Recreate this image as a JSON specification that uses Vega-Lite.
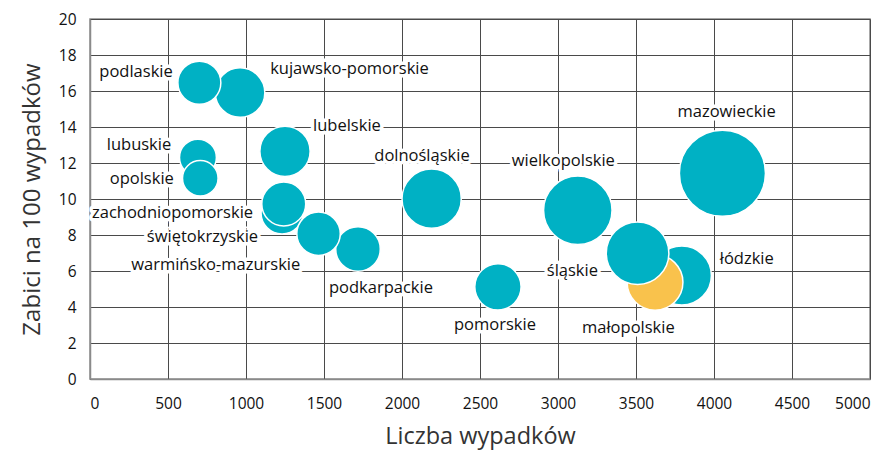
{
  "$schema": "https://vega.github.io/schema/vega-lite/v6.json",
  "width": 780,
  "height": 360,
  "autosize": {"type": "none"},
  "padding": {"left": 90, "top": 19, "right": 19, "bottom": 71},
  "background": "white",
  "config": {
    "view": {"stroke": "#8a8a8a", "strokeWidth": 1.5},
    "axis": {
      "grid": true,
      "gridColor": "#4a4a4a",
      "gridWidth": 1,
      "gridOpacity": 1,
      "ticks": false,
      "tickSize": 0,
      "domainColor": "#8a8a8a",
      "domainWidth": 1.5,
      "labelFont": "Open Sans",
      "labelFontSize": 15.5,
      "labelColor": "#111111",
      "labelOverlap": false,
      "labelPadding": 14,
      "titleFont": "Open Sans",
      "titleFontSize": 23.5,
      "titleFontWeight": "normal",
      "titleColor": "#333333"
    }
  },
  "datasets": {
    "bubbles": [
      {"name": "łódzkie", "wypadki": 3794, "zabici100": 5.75, "zabici": 218},
      {"name": "małopolskie", "wypadki": 3622, "zabici100": 5.37, "zabici": 194.5},
      {"name": "śląskie", "wypadki": 3510, "zabici100": 6.99, "zabici": 245},
      {"name": "kujawsko-pomorskie", "wypadki": 962, "zabici100": 15.91, "zabici": 153},
      {"name": "podlaskie", "wypadki": 701, "zabici100": 16.46, "zabici": 115.4},
      {"name": "lubuskie", "wypadki": 692, "zabici100": 12.3, "zabici": 85},
      {"name": "opolskie", "wypadki": 707, "zabici100": 11.15, "zabici": 79},
      {"name": "podkarpackie", "wypadki": 1718, "zabici100": 7.22, "zabici": 124},
      {"name": "świętokrzyskie", "wypadki": 1231, "zabici100": 9.22, "zabici": 110},
      {"name": "warmińsko-mazurskie", "wypadki": 1465, "zabici100": 8.07, "zabici": 118},
      {"name": "lubelskie", "wypadki": 1250, "zabici100": 12.65, "zabici": 158},
      {"name": "zachodniopomorskie", "wypadki": 1242, "zabici100": 9.72, "zabici": 120.7},
      {"name": "dolnośląskie", "wypadki": 2190, "zabici100": 10.02, "zabici": 219.4},
      {"name": "wielkopolskie", "wypadki": 3127, "zabici100": 9.37, "zabici": 293},
      {"name": "mazowieckie", "wypadki": 4054, "zabici100": 11.43, "zabici": 463},
      {"name": "pomorskie", "wypadki": 2615, "zabici100": 5.12, "zabici": 134}
    ],
    "labels": [
      {"name": "podlaskie", "lx": 295, "ly": 17.07},
      {"name": "kujawsko-pomorskie", "lx": 1663, "ly": 17.22},
      {"name": "lubelskie", "lx": 1647, "ly": 14.06},
      {"name": "lubuskie", "lx": 314, "ly": 12.98},
      {"name": "opolskie", "lx": 332, "ly": 11.09},
      {"name": "dolnośląskie", "lx": 2128, "ly": 12.41},
      {"name": "zachodniopomorskie", "lx": 529, "ly": 9.21},
      {"name": "świętokrzyskie", "lx": 721, "ly": 7.91},
      {"name": "warmińsko-mazurskie", "lx": 806, "ly": 6.32},
      {"name": "podkarpackie", "lx": 1865, "ly": 5.04},
      {"name": "mazowieckie", "lx": 4081, "ly": 14.82},
      {"name": "wielkopolskie", "lx": 3034, "ly": 12.11},
      {"name": "śląskie", "lx": 3092, "ly": 6.0},
      {"name": "łódzkie", "lx": 4210, "ly": 6.65},
      {"name": "pomorskie", "lx": 2596, "ly": 3.0},
      {"name": "małopolskie", "lx": 3451, "ly": 2.82}
    ]
  },
  "layer": [
    {
      "data": {"name": "labels"},
      "mark": {"type": "text", "font": "Open Sans", "fontSize": 16.5, "baseline": "middle", "align": "center", "stroke": "white", "strokeWidth": 7, "strokeJoin": "round", "fill": "white"},
      "encoding": {
        "x": {"field": "lx", "type": "quantitative", "scale": {"domain": [0, 5000], "nice": false}, "axis": {"values": [0, 500, 1000, 1500, 2000, 2500, 3000, 3500, 4000, 4500, 5000], "format": "d", "title": "Liczba wypadków", "labelPadding": 17, "titlePadding": 13}},
        "y": {"field": "ly", "type": "quantitative", "scale": {"domain": [0, 20], "nice": false}, "axis": {"values": [0, 2, 4, 6, 8, 10, 12, 14, 16, 18, 20], "format": "d", "title": "Zabici na 100 wypadków", "titleFontSize": 24, "titlePadding": 14}},
        "text": {"field": "name"}
      }
    },
    {
      "data": {"name": "bubbles"},
      "mark": {"type": "point", "shape": "circle", "filled": true, "opacity": 1, "stroke": "white", "strokeWidth": 1.5},
      "encoding": {
        "x": {"field": "wypadki", "type": "quantitative", "scale": {"domain": [0, 5000], "nice": false}, "axis": {"values": [0, 500, 1000, 1500, 2000, 2500, 3000, 3500, 4000, 4500, 5000], "format": "d", "title": "Liczba wypadków", "labelPadding": 17, "titlePadding": 13}},
        "y": {"field": "zabici100", "type": "quantitative", "scale": {"domain": [0, 20], "nice": false}, "axis": {"values": [0, 2, 4, 6, 8, 10, 12, 14, 16, 18, 20], "format": "d", "title": "Zabici na 100 wypadków", "titleFontSize": 24, "titlePadding": 14}},
        "size": {"field": "zabici", "type": "quantitative", "scale": {"type": "linear", "domain": [0, 500], "range": [0, 8000], "zero": true}, "legend": null},
        "fill": {"condition": {"test": "datum.name === 'małopolskie'", "value": "#F9C24C"}, "value": "#00B1C4"}
      }
    },
    {
      "data": {"name": "labels"},
      "mark": {"type": "text", "font": "Open Sans", "fontSize": 16.5, "baseline": "middle", "align": "center", "fill": "#111111"},
      "encoding": {
        "x": {"field": "lx", "type": "quantitative", "scale": {"domain": [0, 5000], "nice": false}, "axis": {"values": [0, 500, 1000, 1500, 2000, 2500, 3000, 3500, 4000, 4500, 5000], "format": "d", "title": "Liczba wypadków", "labelPadding": 17, "titlePadding": 13}},
        "y": {"field": "ly", "type": "quantitative", "scale": {"domain": [0, 20], "nice": false}, "axis": {"values": [0, 2, 4, 6, 8, 10, 12, 14, 16, 18, 20], "format": "d", "title": "Zabici na 100 wypadków", "titleFontSize": 24, "titlePadding": 14}},
        "text": {"field": "name"}
      }
    }
  ]
}
